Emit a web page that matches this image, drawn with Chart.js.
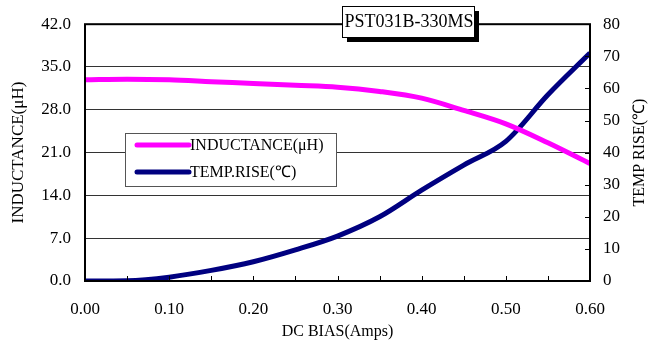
<!DOCTYPE html>
<html>
<head>
<meta charset="utf-8">
<script src="https://cdn.jsdelivr.net/npm/chart.js@4"></script>
<style>
  html, body { margin: 0; padding: 0; background: #fff; }
  #wrap { width: 650px; height: 344px; }
</style>
</head>
<body>
<div id="wrap"><canvas id="myChart" width="650" height="344"></canvas></div>
<script>
const chartTitle = 'PST031B-330MS';
const biasAmps = [0, 0.05, 0.10, 0.15, 0.20, 0.25, 0.30, 0.35, 0.40, 0.45, 0.50, 0.55, 0.60];
const inductance = [32.9, 33.0, 32.9, 32.6, 32.3, 32.0, 31.7, 31.0, 29.9, 27.9, 25.7, 22.6, 19.2];
const tempRise = [0, 0.1, 1.2, 3.3, 6.0, 9.7, 14.0, 20.0, 28.3, 36.1, 43.5, 58.0, 71.0];
const seriesNames = ['INDUCTANCE(\u03bcH)', 'TEMP.RISE(\u2103)'];
const seriesColors = ['#ff00ff', '#000080'];

const FONT = "'Liberation Serif', 'Times New Roman', serif";

const toPoints = vals => vals.map((v, i) => ({ x: biasAmps[i], y: v }));

// frame, inward ticks, title box, legend box, right axis title
const decorations = {
    id: 'decorations',
    afterDraw(chart) {
        const ctx = chart.ctx;
        const a = chart.chartArea;
        const sx = chart.scales.x;
        const sr = chart.scales.yR;
        ctx.save();

        // minor ticks on the x axis, pointing up
        ctx.strokeStyle = '#000';
        ctx.lineWidth = 1;
        for (let v = 0.05; v < 0.6; v += 0.05) {
            const px = Math.round(sx.getPixelForValue(v)) + 0.5;
            ctx.beginPath();
            ctx.moveTo(px, a.bottom);
            ctx.lineTo(px, a.bottom - 5);
            ctx.stroke();
        }
        // right axis ticks, pointing left
        for (let v = 10; v < 80; v += 10) {
            const py = Math.round(sr.getPixelForValue(v)) + 0.5;
            ctx.beginPath();
            ctx.moveTo(a.right, py);
            ctx.lineTo(a.right - 5, py);
            ctx.stroke();
        }

        // plot frame
        ctx.lineWidth = 2;
        ctx.strokeRect(a.left, a.top, a.right - a.left, a.bottom - a.top);

        // title box with shadow
        const bx = 342, by = 6, bw = 132, bh = 31;
        ctx.fillStyle = '#000';
        ctx.fillRect(bx + 5, by + 5, bw, bh);
        ctx.fillStyle = '#fff';
        ctx.fillRect(bx, by, bw, bh);
        ctx.lineWidth = 1;
        ctx.strokeStyle = '#000';
        ctx.strokeRect(bx + 0.5, by + 0.5, bw, bh);
        ctx.fillStyle = '#000';
        ctx.font = '18px ' + FONT;
        ctx.textAlign = 'center';
        ctx.textBaseline = 'middle';
        ctx.fillText(chartTitle, bx + bw / 2 + 1, by + bh / 2 + 1);

        // legend box
        const lx = 125, ly = 133, lw = 211, lh = 53;
        ctx.fillStyle = '#fff';
        ctx.fillRect(lx, ly, lw, lh);
        ctx.strokeStyle = '#555';
        ctx.strokeRect(lx + 0.5, ly + 0.5, lw, lh);
        ctx.font = '16px ' + FONT;
        ctx.textAlign = 'left';
        chart.data.datasets.forEach((ds, i) => {
            const yy = ly + 12 + i * 27;
            ctx.strokeStyle = ds.borderColor;
            ctx.lineWidth = 5;
            ctx.lineCap = 'round';
            ctx.beginPath();
            ctx.moveTo(137, yy);
            ctx.lineTo(189, yy);
            ctx.stroke();
            ctx.fillStyle = '#000';
            ctx.fillText(ds.label, 190, yy + 1);
        });

        // right axis title, reading upwards
        ctx.translate(640, (a.top + a.bottom) / 2);
        ctx.rotate(-Math.PI / 2);
        ctx.font = '16px ' + FONT;
        ctx.textAlign = 'center';
        ctx.fillText('TEMP RISE(\u2103)', 0, 0);
        ctx.restore();
    }
};

const ctx = document.getElementById('myChart').getContext('2d');
new Chart(ctx, {
    type: 'line',
    data: {
        datasets: [
            {
                label: seriesNames[0],
                data: toPoints(inductance),
                borderColor: seriesColors[0],
                backgroundColor: seriesColors[0],
                borderWidth: 5,
                pointRadius: 0,
                cubicInterpolationMode: 'monotone',
                yAxisID: 'y'
            },
            {
                label: seriesNames[1],
                data: toPoints(tempRise),
                borderColor: seriesColors[1],
                backgroundColor: seriesColors[1],
                borderWidth: 5,
                pointRadius: 0,
                cubicInterpolationMode: 'monotone',
                yAxisID: 'yR'
            }
        ]
    },
    options: {
        responsive: false,
        animation: false,
        layout: { padding: { top: 24, left: 0, right: 0, bottom: 0 } },
        plugins: {
            legend: { display: false },
            tooltip: { enabled: false }
        },
        scales: {
            x: {
                type: 'linear',
                min: 0,
                max: 0.6,
                afterFit: s => { s.height = 63; },
                ticks: {
                    stepSize: 0.1,
                    padding: 10,
                    color: '#000',
                    font: { family: FONT, size: 17 },
                    callback: v => v.toFixed(2)
                },
                grid: { display: false },
                border: { display: false },
                title: {
                    display: true,
                    text: 'DC BIAS(Amps)',
                    color: '#000',
                    font: { family: FONT, size: 16 },
                    padding: { top: 0, bottom: 3 }
                }
            },
            y: {
                position: 'left',
                min: 0,
                max: 42,
                afterFit: s => { s.width = 85; },
                ticks: {
                    stepSize: 7,
                    padding: 14,
                    color: '#000',
                    font: { family: FONT, size: 17 },
                    callback: v => v.toFixed(1)
                },
                grid: { color: '#333', lineWidth: 1, drawTicks: false },
                border: { display: false },
                title: {
                    display: true,
                    text: 'INDUCTANCE(\u03bcH)',
                    color: '#000',
                    font: { family: FONT, size: 17 },
                    padding: { top: 8, bottom: 0 }
                }
            },
            yR: {
                position: 'right',
                min: 0,
                max: 80,
                afterFit: s => { s.width = 60; },
                ticks: {
                    stepSize: 10,
                    padding: 13,
                    color: '#000',
                    font: { family: FONT, size: 17 }
                },
                grid: { display: false, drawTicks: false },
                border: { display: false }
            }
        }
    },
    plugins: [decorations]
});
</script>
</body>
</html>
